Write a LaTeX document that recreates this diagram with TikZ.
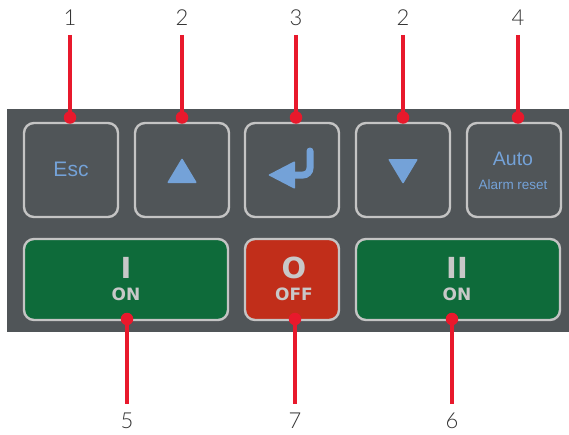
\documentclass[tikz,border=0pt]{standalone}
\usepackage{fontspec}
\setmainfont{Liberation Sans}
\newfontfamily\numfont{Lato}[UprightFont=* Light]
\newfontfamily\btnfont{DejaVu Sans}
\definecolor{panelgray}{HTML}{505558}
\definecolor{keyedge}{HTML}{C4C4C4}
\definecolor{keyblue}{HTML}{74A2D8}
\definecolor{ongreen}{HTML}{0E6B3A}
\definecolor{offred}{HTML}{C12E1A}
\definecolor{leadred}{HTML}{E8192C}
\definecolor{numgray}{HTML}{333333}
\definecolor{btntext}{HTML}{C8C8C8}
\begin{document}
\begin{tikzpicture}[x=1pt,y=-1pt,
  keybox/.style={draw=keyedge, line width=2.4pt, rounded corners=10pt, fill=panelgray,
    minimum width=94pt, minimum height=94pt, inner sep=0pt},
  btnbox/.style={draw=keyedge, line width=2.4pt, rounded corners=10pt,
    minimum height=81pt, inner sep=0pt},
  leaddot/.style={circle, fill=leadred, minimum size=12.5pt, inner sep=0pt},
  numlbl/.style={text=numgray, font=\numfont\fontsize{22}{22}\selectfont, inner sep=0pt, outer sep=9pt},
  leader/.style={draw=leadred, line width=3.2pt},
  keytxt/.style={text=keyblue, inner sep=0pt},
  btntxt/.style={text=btntext, inner sep=0pt}]
\useasboundingbox (0,0) rectangle (569,434);
\fill[panelgray] (7,109) rectangle (569,332);
% top keys
\node[keybox] (k1) at (71,170) {};
\node[keybox] (k2) at (182,170) {};
\node[keybox] (k3) at (292,170) {};
\node[keybox] (k4) at (403,170) {};
\node[keybox] (k5) at (514,170) {};
% key contents
\node[keytxt, font=\fontsize{21}{21}\selectfont] (esc) at (71,169) {Esc};
\fill[keyblue, rounded corners=1pt] (167,183) -- (182,158) -- (197,183) -- cycle;
\fill[keyblue, rounded corners=1pt] (388,159) -- (418,159) -- (403,184) -- cycle;
\draw[keyblue, line width=7pt, line cap=round, rounded corners=7pt] (310,151) -- (310,175) -- (290,175);
\fill[keyblue, rounded corners=1pt] (268,175) -- (295,161) -- (295,189) -- cycle;
\node[keytxt, font=\fontsize{19.5}{19.5}\selectfont] (auto) at (513,159) {Auto};
\node[keytxt, font=\fontsize{13.5}{13.5}\selectfont] (alarm) at (513,185) {Alarm reset};
% bottom buttons
\node[btnbox, fill=ongreen, minimum width=204pt] (b1) at (126,279.5) {};
\node[btnbox, fill=offred, minimum width=94pt] (b2) at (292,279.5) {};
\node[btnbox, fill=ongreen, minimum width=204pt] (b3) at (458,279.5) {};
\node[btntxt, font=\btnfont\bfseries\fontsize{29}{29}\selectfont] (t1a) at (126,267.5) {I};
\node[btntxt, font=\btnfont\bfseries\fontsize{17}{17}\selectfont] (t1b) at (126,294.5) {ON};
\node[btntxt, font=\btnfont\bfseries\fontsize{29}{29}\selectfont] (t2a) at (294,267.5) {O};
\node[btntxt, font=\btnfont\bfseries\fontsize{17}{17}\selectfont] (t2b) at (294,294.5) {OFF};
\node[btntxt, font=\btnfont\bfseries\fontsize{29}{29}\selectfont] (t3a) at (457,267.5) {II};
\node[btntxt, font=\btnfont\bfseries\fontsize{17}{17}\selectfont] (t3b) at (457,294.5) {ON};
% top leaders
\node[leaddot] (d1) at (70,117.5) {};
\node[leaddot] (d2) at (182,117.5) {};
\node[leaddot] (d3) at (296,117.5) {};
\node[leaddot] (d4) at (403,117.5) {};
\node[leaddot] (d5) at (518,117.5) {};
\node[numlbl] (n1) at (70,18) {1};
\node[numlbl] (n2) at (182,18) {2};
\node[numlbl] (n3) at (296,18) {3};
\node[numlbl] (n4) at (403,18) {2};
\node[numlbl] (n5) at (518,18) {4};
\foreach \i in {1,...,5} \draw[leader] (n\i) -- (d\i.center);
% bottom leaders
\node[leaddot] (d6) at (127,319) {};
\node[leaddot] (d7) at (295,319) {};
\node[leaddot] (d8) at (452,319) {};
\node[numlbl] (n6) at (127,421) {5};
\node[numlbl] (n7) at (295,421) {7};
\node[numlbl] (n8) at (452,421) {6};
\foreach \i in {6,7,8} \draw[leader] (d\i.center) -- (n\i);
\end{tikzpicture}
\end{document}
